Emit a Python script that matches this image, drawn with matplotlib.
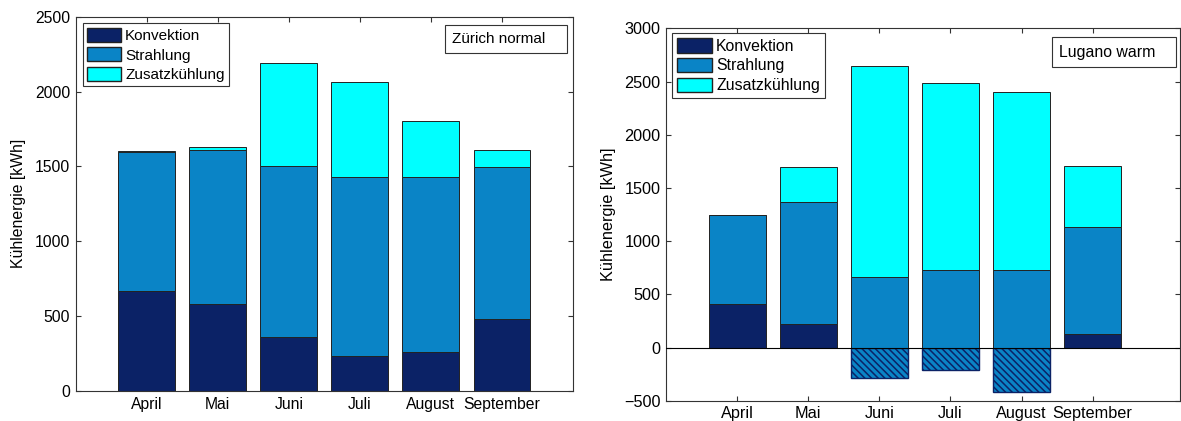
import numpy as np
import matplotlib
matplotlib.use("Agg")
import matplotlib.pyplot as plt
from matplotlib.patches import Patch, Rectangle

plt.rcParams["font.family"] = ["Liberation Sans", "DejaVu Sans"]
plt.rcParams["hatch.linewidth"] = 1.1

# DATA
months = ["April", "Mai", "Juni", "Juli", "August", "September"]

zh_konvektion = [668, 583, 358, 232, 260, 483]
zh_strahlung = [930, 1027, 1145, 1195, 1167, 1011]
zh_zusatz = [3, 17, 690, 639, 374, 113]

lu_konvektion = [406, 222, -285, -210, -420, 125]
lu_strahlung = [835, 1141, 667, 724, 730, 1010]
lu_zusatz = [0, 333, 1975, 1758, 1671, 570]

c_konv = "#0b2266"
c_strahl = "#0a84c6"
c_zusatz = "#00ffff"

W, H = 1181, 421
fig = plt.figure(figsize=(W / 100, H / 100), dpi=100)
# axes placed in pixel units of the reference picture
ax1 = fig.add_axes([75.7 / W, (H - 391) / H, 497.3 / W, 374.3 / H])
ax2 = fig.add_axes([666 / W, (H - 400.7) / H, 514 / W, 372.4 / H])


def draw_panel(ax, konv, strahl, zus, ylim, yticks, xmax, label, box, legpos, fs):
    x = np.arange(1, len(months) + 1)
    konv = np.array(konv, dtype=float)
    strahl = np.array(strahl, dtype=float)
    zus = np.array(zus, dtype=float)
    pos = konv >= 0
    base = np.where(pos, konv, 0)

    ax.bar(x[pos], konv[pos], width=0.8, color=c_konv, edgecolor="#222222", linewidth=0.7, zorder=2)
    if (~pos).any():
        ax.bar(x[~pos], konv[~pos], width=0.8, color=c_strahl, edgecolor=c_konv,
               hatch="\\\\\\\\\\", linewidth=1.0, zorder=2)
    ax.bar(x, strahl, bottom=base, width=0.8, color=c_strahl, edgecolor="#222222", linewidth=0.7, zorder=2)
    ax.bar(x, zus, bottom=base + strahl, width=0.8, color=c_zusatz, edgecolor="#222222", linewidth=0.7, zorder=2)

    ax.set_xlim(0, xmax)
    ax.set_ylim(*ylim)
    ax.set_yticks(yticks)
    ax.set_xticks(x)
    ax.set_xticklabels(months)
    ax.tick_params(direction="in", top=True, right=True, labelsize=fs, length=3.6,
                   width=0.8, pad=4, color="#333333")
    ax.set_ylabel("Kühlenergie [kWh]", fontsize=fs, labelpad=6)
    for s in ax.spines.values():
        s.set_color("#333333")
        s.set_linewidth(0.8)

    handles = [Patch(facecolor=c_konv, edgecolor="#222222", label="Konvektion"),
               Patch(facecolor=c_strahl, edgecolor="#222222", label="Strahlung"),
               Patch(facecolor=c_zusatz, edgecolor="#222222", label="Zusatzkühlung")]
    leg = ax.legend(handles=handles, loc="upper left", bbox_to_anchor=legpos,
                    fontsize=fs - 0.3, fancybox=False, framealpha=1, edgecolor="#333333",
                    handlelength=2.2, handleheight=1.05, handletextpad=0.28,
                    labelspacing=0.26, borderpad=0.3, borderaxespad=0.0)
    leg.get_frame().set_linewidth(0.8)
    leg.set_zorder(5)

    x0, y0, w, h = box
    ax.add_patch(Rectangle((x0, y0), w, h, transform=ax.transAxes, facecolor="white",
                           edgecolor="#333333", linewidth=0.8, zorder=5))
    ax.text(x0 + 0.013, y0 + h / 2, label, transform=ax.transAxes, fontsize=fs - 0.3,
            va="center", ha="left", zorder=6)


draw_panel(ax1, zh_konvektion, zh_strahlung, zh_zusatz, (0, 2500),
           [0, 500, 1000, 1500, 2000, 2500], 7, "Zürich normal",
           (0.743, 0.902, 0.245, 0.076), (0.014, 0.982), 11.3)
draw_panel(ax2, lu_konvektion, lu_strahlung, lu_zusatz, (-500, 3000),
           [-500, 0, 500, 1000, 1500, 2000, 2500, 3000], 514 / 71.1, "Lugano warm",
           (0.751, 0.895, 0.241, 0.081), (0.0117, 0.987), 11.7)
ax2.axhline(0, color="black", linewidth=0.8, zorder=3)

fig.savefig("out.png", dpi=100)
